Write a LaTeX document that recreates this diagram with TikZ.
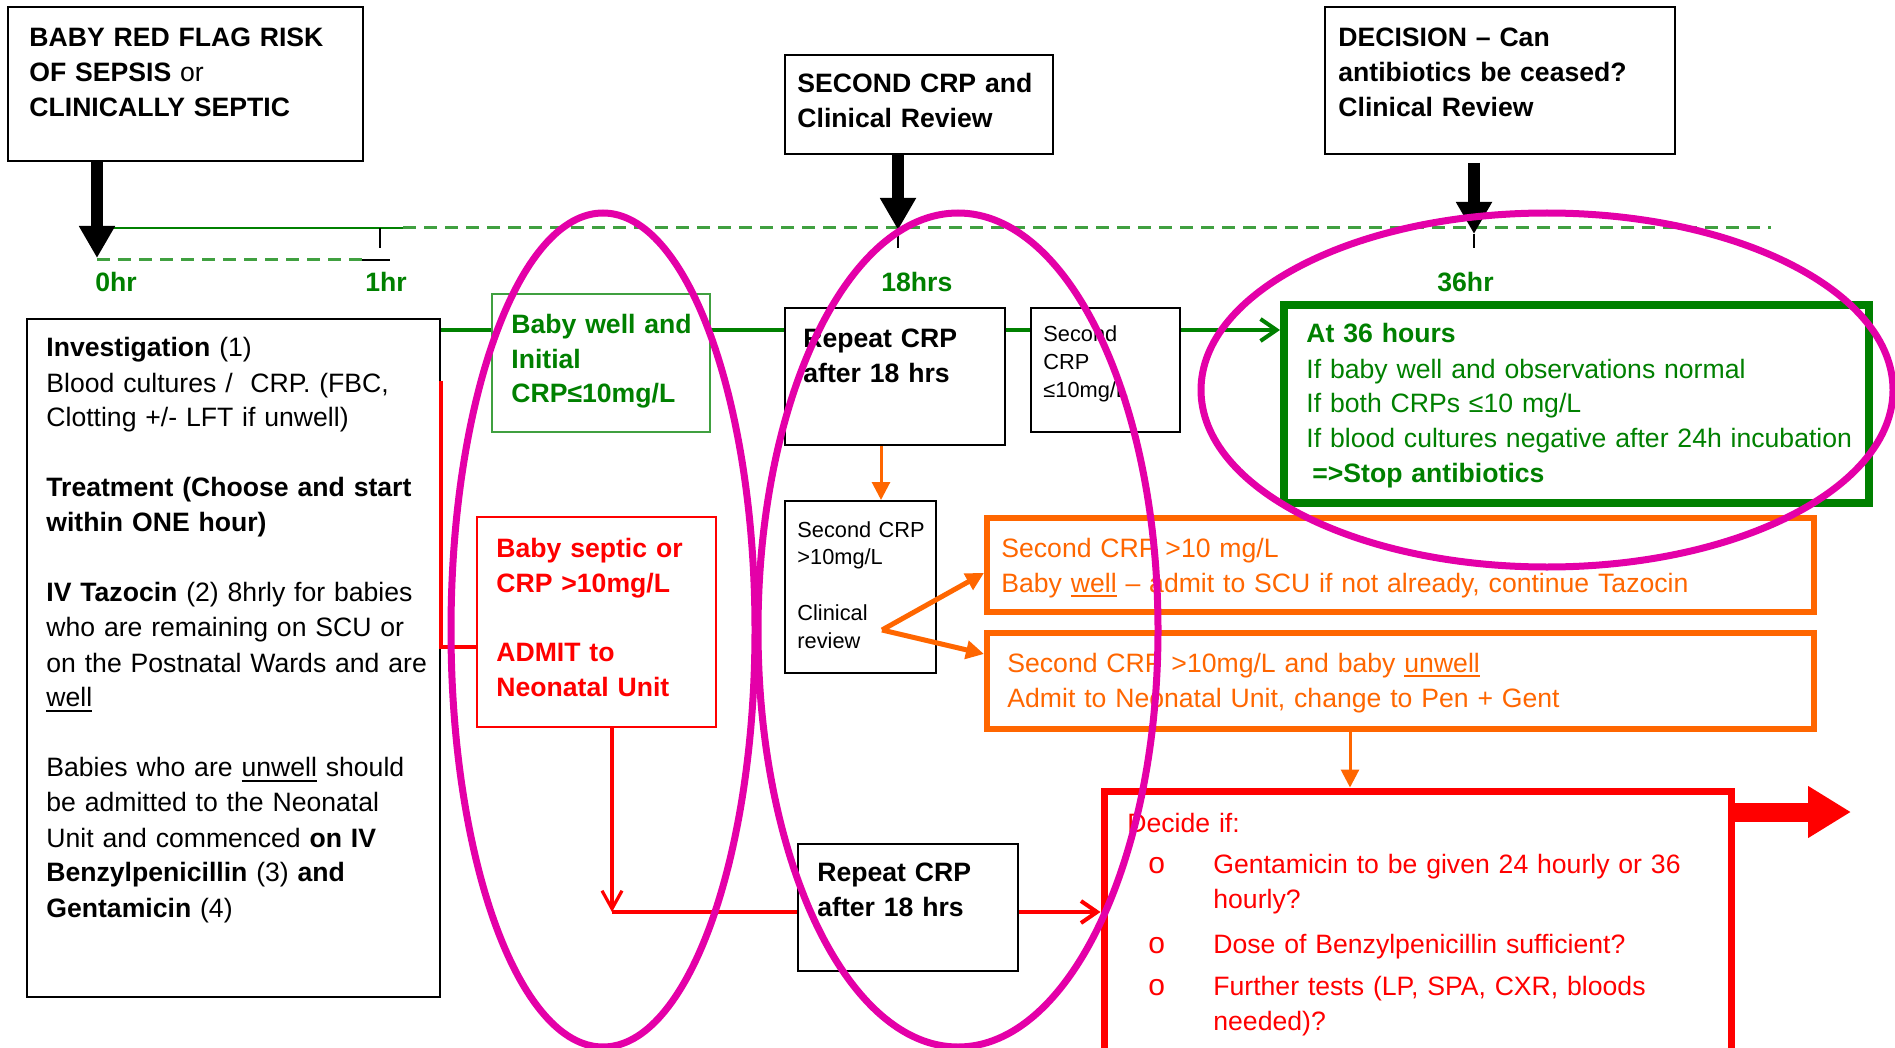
\documentclass[tikz,border=0pt]{standalone}
\usepackage{fontspec}
\setmainfont{Liberation Sans}
\usepackage{tikz}
\usetikzlibrary{arrows.meta}
\usepackage{xcolor}

\definecolor{flowgreen}{RGB}{0,128,0}
\definecolor{dashgreen}{RGB}{64,160,64}
\definecolor{alertorange}{RGB}{255,102,0}
\definecolor{alertred}{RGB}{255,0,0}
\definecolor{markpink}{RGB}{228,0,168}

\newcommand{\mainsize}{\fontsize{13.3pt}{17.5pt}\selectfont}
\newcommand{\smallsize}{\fontsize{10.9pt}{13.9pt}\selectfont}
\newsavebox{\undlbox}
\newcommand{\undl}[1]{\leavevmode\sbox{\undlbox}{#1}\rlap{\rule[-2.5pt]{\wd\undlbox}{1.1pt}}\usebox{\undlbox}}
\newcommand{\decidebullet}{\makebox[43pt][l]{\hspace*{10.5pt}{\fontsize{15pt}{15pt}\selectfont o}}}

\tikzset{
  box/.style={draw=black, line width=1pt, fill=white, inner sep=0pt},
  txt/.style={anchor=base west, inner sep=0pt, align=left, text width=#1, font=\mainsize},
  txt/.default=300pt,
  fatarrow/.style={line width=6pt, -{Triangle[length=16pt,width=17pt]}},
  tick/.style={draw=black, line width=0.8pt},
  timesolid/.style={draw=flowgreen, line width=1pt},
  timedash/.style={draw=dashgreen, line width=1.5pt, dash pattern=on 6.5pt off 4pt},
  flowline/.style={draw=flowgreen, line width=2pt},
  redline/.style={draw=alertred, line width=2pt},
  orangeline/.style={draw=alertorange, line width=1.5pt, -{Triangle[length=9pt,width=9pt]}},
  ringmark/.style={draw=markpink, line width=3.5pt}
}

\begin{document}
\begin{tikzpicture}[x=0.5pt,y=0.5pt,yscale=-1,xscale=1]
\useasboundingbox (0,0) rectangle (1895,1048);

% Time line
\draw[timesolid] (112,228) -- (403,228);
\draw[timedash] (403,228) -- (1771,228);
\draw[timedash] (97,260) -- (362,260);
\draw[black, line width=1.2pt] (362,260) -- (390,260);
\draw[tick] (380,228) -- (380,248);
\node[txt, text=flowgreen, font=\mainsize\bfseries] (lab0) at (95,292) {0hr};
\node[txt, text=flowgreen, font=\mainsize\bfseries] (lab1) at (365,292) {1hr};
\node[txt, text=flowgreen, font=\mainsize\bfseries] (lab18) at (881,292) {18hrs};
\node[txt, text=flowgreen, font=\mainsize\bfseries] (lab36) at (1437,292) {36hr};

% Text Node
\node[box, minimum width=177.5pt, minimum height=77pt] (flag) at (185.5,84) {};
\node[txt] (flagtxt) at (29,47) {\textbf{BABY RED FLAG RISK}\\\textbf{OF SEPSIS} or\\\textbf{CLINICALLY SEPTIC}};
% Text Node
\node[box, minimum width=134pt, minimum height=49.5pt] (second) at (919,104.5) {};
\node[txt] (secondtxt) at (797,93) {\textbf{SECOND CRP and}\\\textbf{Clinical Review}};
% Text Node
\node[box, minimum width=175pt, minimum height=73.5pt] (decision) at (1500,80.5) {};
\node[txt] (decisiontxt) at (1338,47) {\textbf{DECISION – Can}\\\textbf{antibiotics be ceased?}\\\textbf{Clinical Review}};

% Text Node
\node[box, line width=1.1pt, minimum width=206.5pt, minimum height=339pt] (inv) at (233.5,658) {};
\node[txt] (invtxt) at (46,357) {\textbf{Investigation} (1)\\
Blood cultures /\ \ CRP. (FBC,\\
Clotting +/- LFT if unwell)\\[17.5pt]
\textbf{Treatment (Choose and start}\\
\textbf{within ONE hour)}\\[17.5pt]
\textbf{IV Tazocin} (2) 8hrly for babies\\
who are remaining on SCU or\\
on the Postnatal Wards and are\\
\undl{well}\\[17.5pt]
Babies who are \undl{unwell} should\\
be admitted to the Neonatal\\
Unit and commenced \textbf{on IV}\\
\textbf{Benzylpenicillin} (3) \textbf{and}\\
\textbf{Gentamicin} (4)};

% Text Node
\node[box, draw=dashgreen, minimum width=109pt, minimum height=69pt] (well) at (601,363) {};
\node[txt, text=flowgreen, font=\mainsize\bfseries] (welltxt) at (511,333) {Baby well and\\Initial\\CRP≤10mg/L};
% Text Node
\node[box, minimum width=110pt, minimum height=68.5pt] (rep1) at (895,376.5) {};
\node[txt, font=\mainsize\bfseries] (rep1txt) at (803,347) {Repeat CRP\\after 18 hrs};
% Text Node
\node[box, minimum width=74.5pt, minimum height=62pt] (crpok) at (1105.5,370) {};
\node[txt, font=\smallsize] (crpoktxt) at (1043,342) {Second\\CRP\\≤10mg/L};
% Text Node
\node[box, draw=flowgreen, line width=4pt, minimum width=292.5pt, minimum height=99pt] (stop) at (1576.5,404) {};
\node[txt, text=flowgreen] (stoptxt) at (1306,343) {\textbf{At 36 hours}\\
If baby well and observations normal\\
If both CRPs ≤10 mg/L\\
If blood cultures negative after 24h incubation\\
\hspace*{3pt}\textbf{=>Stop antibiotics}};

% Text Node
\node[box, draw=alertred, minimum width=119.5pt, minimum height=105pt] (septic) at (596.5,622) {};
\node[txt, text=alertred, font=\mainsize\bfseries] (septictxt) at (496,557) {Baby septic or\\CRP >10mg/L\\[17pt]ADMIT to\\Neonatal Unit};
% Text Node
\node[box, minimum width=75.5pt, minimum height=86pt] (review) at (860.5,587) {};
\node[txt, font=\smallsize] (reviewtxt) at (797,537) {Second CRP\\>10mg/L\\[13.9pt]Clinical\\review};
% Text Node
\node[box, draw=alertorange, line width=3pt, minimum width=413.5pt, minimum height=47pt] (okwell) at (1400.5,565) {};
\node[txt, text=alertorange, text width=420pt] (okwelltxt) at (1001,557) {Second CRP >10 mg/L\\Baby \undl{well} – admit to SCU if not already, continue Tazocin};
% Text Node
\node[box, draw=alertorange, line width=3pt, minimum width=413.5pt, minimum height=48pt] (unwell) at (1400.5,681) {};
\node[txt, text=alertorange, text width=420pt] (unwelltxt) at (1007,672) {Second CRP >10mg/L and baby \undl{unwell}\\Admit to Neonatal Unit, change to Pen + Gent};
% Text Node
\node[box, draw=alertred, line width=3.5pt, minimum width=313.5pt, minimum height=144.5pt] (decide) at (1417.5,935.5) {};
\node[txt, text=alertred] (decidetxt) at (1127,832) {Decide if:\\[3pt]
\decidebullet Gentamicin to be given 24 hourly or 36\\
\hspace*{43pt}hourly?\\[5pt]
\decidebullet Dose of Benzylpenicillin sufficient?\\[3.5pt]
\decidebullet Further tests (LP, SPA, CXR, bloods\\
\hspace*{43pt}needed)?};
% Text Node
\node[box, minimum width=110pt, minimum height=63.5pt] (rep2) at (908,907.5) {};
\node[txt, font=\mainsize\bfseries] (rep2txt) at (817,881) {Repeat CRP\\after 18 hrs};

% Black arrows onto the time line
\coordinate (t0) at (97,258);
\coordinate (t18) at (898,230);
\coordinate (t36) at (1474,234);
\draw[fatarrow] ([xshift=-44.25pt]flag.south) -- (t0);
\draw[fatarrow] ([xshift=-10.5pt]second.south) -- (t18);
\draw[tick] (t18) -- ([yshift=9pt]t18);
\draw[fatarrow, shorten <=4pt] ([xshift=-13pt]decision.south) -- (t36);
\draw[tick] (t36) -- ([yshift=7pt]t36);

% Green flow
\coordinate (flow) at (0,330);
\draw[flowline] (inv.east |- flow) -- (well.west |- flow);
\draw[flowline] (well.east |- flow) -- (rep1.west |- flow);
\draw[flowline] (rep1.east |- flow) -- (crpok.west |- flow);
\draw[flowline, -{Straight Barb[length=8pt,width=11pt]}] (crpok.east |- flow) -- (stop.west |- flow);

% Red flow
\coordinate (redtop) at ([yshift=31.5pt]inv.north east);
\coordinate (redjoin) at (612,912);
\draw[redline] (redtop) |- ([yshift=12.5pt]septic.west);
\draw[redline, line width=1.6pt, -{Straight Barb[length=9pt,width=10pt]}] ([xshift=7.75pt]septic.south) -- (redjoin);
\draw[redline] (redjoin) -- (rep2.west |- redjoin);
\draw[redline, -{Straight Barb[length=8pt,width=11pt]}] (rep2.east |- redjoin) -- (decide.west |- redjoin);
\coordinate (nexttip) at (1851,812);
\draw[alertred, line width=9.5pt, -{Triangle[length=21.5pt,width=24.5pt]}] (decide.east |- nexttip) -- (nexttip);

% Orange flow
\coordinate (fan) at (882,630);
\draw[orangeline] ([xshift=-7pt]rep1.south) -- ([xshift=-7pt]rep1.south |- review.north);
\draw[orangeline, line width=2.5pt] (fan) -- ([yshift=4pt]okwell.west);
\draw[orangeline, line width=2.5pt] (fan) -- ([yshift=-13.5pt]unwell.west);
\draw[orangeline] ([xshift=-25.25pt]unwell.south) -- ([xshift=-25.25pt]unwell.south |- decide.north);

% Rings
\draw[ringmark] (603,630) ellipse [x radius=76pt, y radius=208.5pt];
\draw[ringmark] (958,630) ellipse [x radius=100pt, y radius=208.5pt];
\draw[ringmark] (1547,390) ellipse [x radius=173pt, y radius=88.5pt];

\end{tikzpicture}
\end{document}
